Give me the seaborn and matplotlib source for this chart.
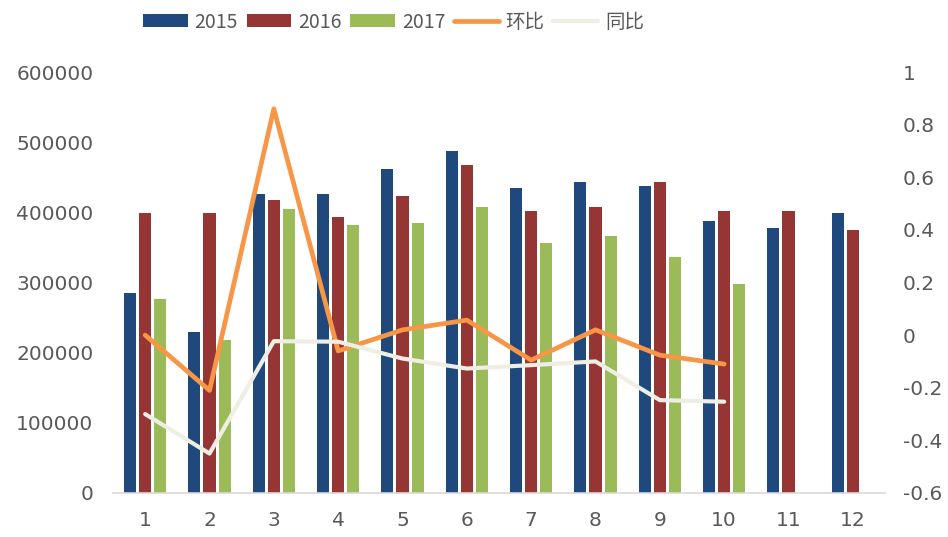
import numpy as np
import pandas as pd
import matplotlib
matplotlib.use("Agg")
import matplotlib.pyplot as plt
import seaborn as sns

# --- DATA ---
months = ['1', '2', '3', '4', '5', '6', '7', '8', '9', '10', '11', '12']
sales_2015 = [285000, 230000, 426000, 426000, 462000, 488000, 435000, 443000, 437000, 387000, 378000, 399000]
sales_2016 = [399000, 399000, 417000, 394000, 423000, 468000, 402000, 408000, 443000, 402000, 402000, 375000]
sales_2017 = [277000, 218000, 405000, 382000, 385000, 408000, 357000, 366000, 336000, 298000, np.nan, np.nan]
mom = [0.0, -0.21, 0.86, -0.06, 0.02, 0.057, -0.095, 0.02, -0.076, -0.11]   # 环比
yoy = [-0.30, -0.45, -0.023, -0.025, -0.089, -0.127, -0.114, -0.10, -0.247, -0.253]  # 同比
years = ['2015', '2016', '2017']

COLORS = {'2015': '#1f497d', '2016': '#963634', '2017': '#9bbb59'}
ORANGE = '#f79646'
LIGHT = '#eeeee4'
TXT = '#595959'


def main():
    sns.set_theme(style="white")
    plt.rcParams['font.family'] = ['DejaVu Sans', 'Noto Sans CJK SC']

    bars = pd.DataFrame({
        'month': months * 3,
        'year': [y for y in years for _ in months],
        'value': sales_2015 + sales_2016 + sales_2017,
    }).dropna()

    lines = pd.DataFrame({
        'pos': np.arange(len(mom)),
        'mom': mom,
        'yoy': yoy,
    })

    fig = plt.figure(figsize=(9.48, 5.37), dpi=100)
    ax = fig.add_axes([113 / 948, 1 - 493 / 537, 772 / 948, 421 / 537])

    sns.barplot(data=bars, x='month', y='value', hue='year', order=months,
                hue_order=years, palette=COLORS, width=0.7, gap=0.2,
                errorbar=None, saturation=1, linewidth=0, ax=ax)
    ax.set_xlim(-0.5, 11.5)
    ax.set_ylim(0, 600000)
    ax.set_yticks(range(0, 600001, 100000))
    ax.set_xlabel('')
    ax.set_ylabel('')
    for s in ['top', 'right', 'left']:
        ax.spines[s].set_visible(False)
    ax.spines['bottom'].set_color('#d9d9d9')
    ax.spines['bottom'].set_linewidth(1.2)
    ax.tick_params(axis='y', length=0, pad=14, labelsize=14.5, labelcolor=TXT)
    ax.tick_params(axis='x', length=0, pad=13, labelsize=14.5, labelcolor=TXT)
    bar_handles, bar_labels = ax.get_legend_handles_labels()
    ax.get_legend().remove()

    ax2 = ax.twinx()
    sns.lineplot(data=lines, x='pos', y='mom', color=ORANGE, linewidth=3.4,
                 label='环比', ax=ax2)
    sns.lineplot(data=lines, x='pos', y='yoy', color=LIGHT, linewidth=3.0,
                 label='同比', ax=ax2)
    ax2.set_ylim(-0.6, 1.0)
    ax2.set_yticks([-0.6, -0.4, -0.2, 0, 0.2, 0.4, 0.6, 0.8, 1])
    ax2.set_yticklabels(['-0.6', '-0.4', '-0.2', '0', '0.2', '0.4', '0.6', '0.8', '1'])
    ax2.set_xlim(-0.5, 11.5)
    ax2.set_ylabel('')
    ax2.set_xlabel('')
    for s in ax2.spines.values():
        s.set_visible(False)
    ax2.tick_params(axis='y', length=0, pad=13, labelsize=14.5, labelcolor=TXT)
    line_handles, line_labels = ax2.get_legend_handles_labels()
    ax2.get_legend().remove()

    fig.legend(bar_handles + line_handles, bar_labels + line_labels,
               loc='center left', bbox_to_anchor=(143 / 948, 1 - 22 / 537),
               ncol=5, frameon=False, borderpad=0, borderaxespad=0,
               handlelength=2.3, handleheight=0.6, handletextpad=0.35,
               columnspacing=0.45,
               prop={'family': ['Liberation Sans Narrow', 'Noto Sans CJK SC'], 'size': 14},
               labelcolor=TXT)

    fig.savefig('out.png', dpi=100)


if __name__ == "__main__":
    main()
